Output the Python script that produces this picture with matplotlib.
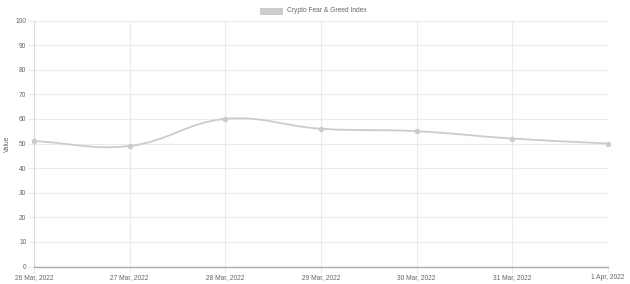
import matplotlib.pyplot as plt
import numpy as np
from matplotlib.path import Path
from matplotlib.patches import PathPatch

plt.rcParams['font.family'] = ['Liberation Sans', 'DejaVu Sans']

dates = ['26 Mar, 2022', '27 Mar, 2022', '28 Mar, 2022', '29 Mar, 2022',
         '30 Mar, 2022', '31 Mar, 2022', '1 Apr, 2022']
values = [51, 49, 60, 56, 55, 52, 50]
series_name = 'Crypto Fear & Greed Index'

line_color = '#cccccc'
grid_color = '#ebebeb'
text_color = '#666666'


def spline_path(ax, xs, ys, tension=0.4):
    # chart.js style bezier, control points worked out in pixel space
    pts = ax.transData.transform(np.column_stack([xs, ys]))
    n = len(pts)
    verts = [pts[0]]
    codes = [Path.MOVETO]
    ctrl = []
    for i in range(n):
        prev = pts[i - 1] if i > 0 else pts[i]
        nxt = pts[i + 1] if i < n - 1 else pts[i]
        d01 = np.hypot(*(pts[i] - prev))
        d12 = np.hypot(*(nxt - pts[i]))
        tot = d01 + d12
        s01 = d01 / tot if tot else 0
        s12 = d12 / tot if tot else 0
        cp_prev = pts[i] - tension * s01 * (nxt - prev)
        cp_next = pts[i] + tension * s12 * (nxt - prev)
        ctrl.append((cp_prev, cp_next))
    for i in range(1, n):
        verts += [ctrl[i - 1][1], ctrl[i][0], pts[i]]
        codes += [Path.CURVE4] * 3
    verts = ax.transData.inverted().transform(np.array(verts))
    return Path(verts, codes)


fig = plt.figure(figsize=(6.3, 2.84), dpi=100)
ax = fig.add_axes([34 / 630, 1 - 266.5 / 284, 574 / 630, 246 / 284])

x = np.arange(len(dates))
ax.set_xlim(0, len(dates) - 1)
ax.set_ylim(0, 100)
ax.set_yticks(range(0, 101, 10))
ax.set_xticks(x)
ax.set_xticklabels(dates)

ax.grid(True, color=grid_color, linewidth=0.8)
ax.set_axisbelow(True)
for side in ['top', 'right']:
    ax.spines[side].set_visible(False)
ax.spines['left'].set_color('#d9d9d9')
ax.spines['bottom'].set_color('#aaaaaa')
ax.spines['left'].set_linewidth(0.8)
ax.spines['bottom'].set_linewidth(1.0)
ax.tick_params(axis='both', colors=grid_color, labelcolor=text_color,
               labelsize=4.8, length=4, width=0.8, pad=1.5)

ax.add_patch(PathPatch(spline_path(ax, x, values), facecolor='none',
                       edgecolor=line_color, linewidth=1.3, zorder=3))
ax.plot(x, values, 'o', color=line_color, markersize=3, zorder=4, clip_on=False)

ax.set_ylabel('Value', fontsize=4.8, color=text_color, labelpad=3)

# legend as in the chart.js header
fig.patches.append(plt.Rectangle((260 / 630, 1 - 14.5 / 284), 23 / 630, 7 / 284,
                                 transform=fig.transFigure, facecolor=line_color,
                                 edgecolor='none'))
fig.text(287 / 630, 1 - 11 / 284, series_name, fontsize=4.8, color=text_color,
         va='center', ha='left')

fig.savefig('out.png', dpi=100)
